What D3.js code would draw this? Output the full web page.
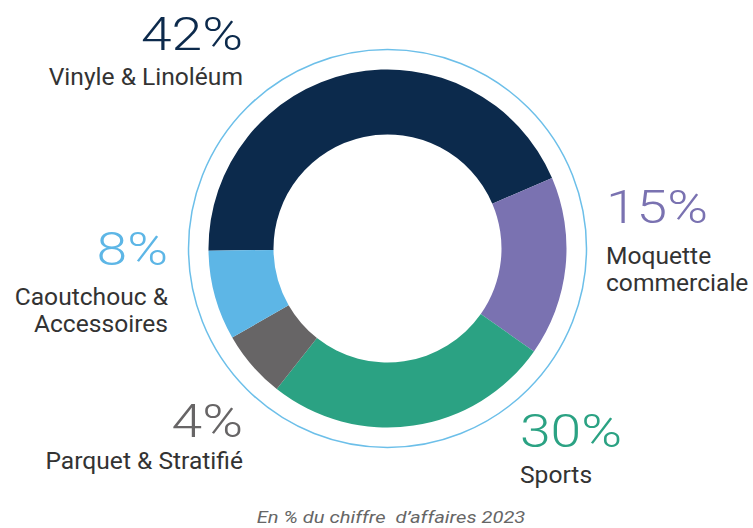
<!DOCTYPE html>
<html>
<head>
<meta charset="utf-8">
<script src="https://cdn.jsdelivr.net/npm/d3@7"></script>
<style>
  body { margin: 0; background: #fff; }
  text { font-family: Roboto, "Noto Sans", sans-serif; }
</style>
</head>
<body>
<script>
const width = 753
const height = 528

// segments, clockwise from 9 o'clock
const categories = ['Vinyle & Linoléum', 'Moquette commerciale', 'Sports', 'Parquet & Stratifié', 'Caoutchouc & Accessoires']
const percentLabels = ['42%', '15%', '30%', '4%', '8%']
// arc sizes as drawn in the picture (they do not follow the printed labels exactly)
const sliceValues = [43.8, 16.2, 25.9, 6.1, 8.1]
const colors = ['#0c2a4c', '#7a72b1', '#2ba283', '#676566', '#5db6e6']
const labelLines = [['Vinyle & Linoléum'], ['Moquette', 'commerciale'], ['Sports'], ['Parquet & Stratifié'], ['Caoutchouc &', 'Accessoires']]
const caption = 'En % du chiffre\u00a0 d’affaires 2023'

const cx = 387.5, cy = 248.5
const sx = 1.2   // big numbers and caption are drawn a bit wide
const labelSx = 1.07

const svg = d3.select('body').append('svg')
    .attr('width', width)
    .attr('height', height)

const pie = d3.pie()
    .sort(null)
    .value(d => d)
    .startAngle(-90.7 * Math.PI / 180)
    .endAngle((360 - 90.7) * Math.PI / 180)

const arc = d3.arc()
    .innerRadius(114)
    .outerRadius(179)

const g = svg.append('g')
    .attr('transform', `translate(${cx},${cy})`)

// thin outer ring
g.append('circle')
    .attr('r', 199)
    .style('fill', 'none')
    .style('stroke', '#6cbfe9')
    .style('stroke-width', 1.5)

g.selectAll('path.slice')
    .data(pie(sliceValues))
    .join('path')
    .attr('class', 'slice')
    .attr('d', arc)
    .style('fill', (d, i) => colors[i])

// label placement: [x, pct baseline, first line baseline, anchor]
const labelPos = [
    [243, 50, 85, 'end'],
    [606, 223, 264, 'start'],
    [520, 447, 483, 'start'],
    [243, 437, 469, 'end'],
    [168, 265, 305, 'end']
]

const labels = svg.selectAll('g.label')
    .data(categories)
    .join('g')
    .attr('class', 'label')

labels.append('text')
    .attr('transform', (d, i) => `translate(${labelPos[i][0]},${labelPos[i][1]}) scale(${sx},1)`)
    .attr('text-anchor', (d, i) => labelPos[i][3])
    .style('font-size', '46px')
    .style('font-weight', 300)
    .style('fill', (d, i) => colors[i])
    .text((d, i) => percentLabels[i])

labels.each(function(d, i) {
    const t = d3.select(this).append('text')
        .attr('transform', `translate(${labelPos[i][0]},${labelPos[i][2]}) scale(${labelSx},1)`)
        .attr('text-anchor', labelPos[i][3])
        .style('font-size', '23px')
        .style('fill', '#333')
    labelLines[i].forEach((line, j) => {
        t.append('tspan')
            .attr('x', 0)
            .attr('dy', j == 0 ? 0 : 27)
            .text(line)
    })
})

svg.append('text')
    .attr('transform', `translate(391,523) scale(${sx},1)`)
    .attr('text-anchor', 'middle')
    .style('font-size', '16.8px')
    .style('font-style', 'italic')
    .style('fill', '#666')
    .text(caption)
</script>
</body>
</html>
